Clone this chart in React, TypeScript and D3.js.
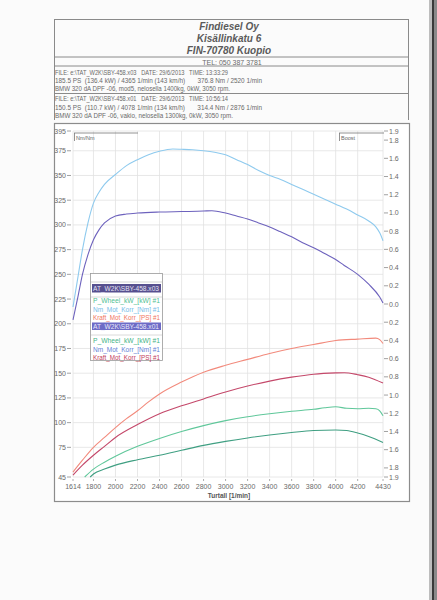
import React from 'react';
import * as d3 from 'd3';

const W = 437;
const H = 600;

const xTicks = [1614, 1800, 2000, 2200, 2400, 2600, 2800, 3000, 3200, 3400, 3600, 3800, 4000, 4200, 4430];
const leftTicks = [395, 375, 350, 325, 300, 275, 250, 225, 200, 175, 150, 125, 100, 75, 45];
const rightTicks = [1.9, 1.8, 1.6, 1.4, 1.2, 1.0, 0.8, 0.6, 0.4, 0.2, 0.0, -0.2, -0.4, -0.6, -0.8, -1.0, -1.2, -1.4, -1.6, -1.8, -1.9];

// x03 (modified) — Nm_Mot_Korr
const nmX03Rpm = [1614, 1660, 1700, 1750, 1800, 1850, 1900, 2000, 2100, 2200, 2300, 2400, 2520, 2600, 2700, 2800, 2900, 3000, 3100, 3200, 3300, 3400, 3500, 3600, 3700, 3800, 3900, 4000, 4100, 4200, 4300, 4365, 4400, 4430];
const nmX03 = [217, 248, 275, 302, 322, 333, 341, 351, 360, 366, 371, 374.5, 376.8, 376.5, 376, 375, 373.5, 371, 366, 361, 355, 350, 346, 341, 336, 331, 326, 321, 316, 310, 304, 298, 292, 284];
// x01 (stock) — Nm_Mot_Korr
const nmX01Rpm = [1614, 1660, 1700, 1750, 1800, 1850, 1900, 2000, 2100, 2200, 2400, 2600, 2800, 2876, 3000, 3100, 3200, 3300, 3400, 3500, 3600, 3700, 3800, 3900, 4000, 4078, 4200, 4300, 4400, 4430];
const nmX01 = [204, 228, 250, 270, 285, 295, 302, 309, 311, 312, 313, 313.5, 314, 314.4, 312, 309, 306, 302, 298, 293, 288, 282, 277, 271, 265, 259, 250, 240, 227, 221];
// x03 — Kraft_Mot_Korr [PS]
const psX03Rpm = [1614, 1700, 1800, 1900, 2000, 2100, 2200, 2300, 2400, 2600, 2800, 3000, 3200, 3400, 3600, 3800, 4000, 4200, 4365, 4400, 4430];
const psX03 = [50, 62, 75, 85, 95, 104, 112, 121, 129, 141, 151, 158, 164, 170, 175, 179, 183, 184.5, 185.5, 184, 180];
// x01 — Kraft_Mot_Korr [PS]
const psX01Rpm = [1614, 1700, 1800, 1900, 2000, 2200, 2400, 2600, 2800, 3000, 3200, 3400, 3600, 3800, 4000, 4078, 4200, 4300, 4430];
const psX01 = [47, 57, 67, 76, 85, 98, 109, 117, 124, 131, 137, 142, 146, 149, 150.3, 150.5, 148.5, 146, 140];
// x03 — P_Wheel_kW
const kwX03Rpm = [1720, 1800, 1900, 2000, 2200, 2400, 2600, 2800, 3000, 3200, 3400, 3600, 3800, 3900, 4000, 4100, 4200, 4300, 4365, 4400, 4430];
const kwX03 = [45, 53, 60, 66, 76, 84, 91, 97, 102, 106, 109, 111.5, 113.5, 115, 116, 114.5, 114, 114.5, 114, 112, 107];
// x01 — P_Wheel_kW
const kwX01Rpm = [1770, 1800, 1900, 2000, 2200, 2400, 2600, 2800, 3000, 3200, 3400, 3600, 3800, 4000, 4100, 4200, 4300, 4430];
const kwX01 = [45, 48, 53, 57, 62.5, 67, 72, 77, 81, 84.5, 87.5, 90, 92, 92.5, 92, 89.5, 86, 80];

const headerLines = ['Findiesel Oy', 'Kisällinkatu 6', 'FIN-70780 Kuopio'];
const telLine = 'TEL: 050 387 3781';
const file1 = 'FILE: e:\\TAT_W2K\\SBY-458.x03   DATE: 29/6/2013   TIME: 13:33:29';
const perf1 = '185.5 PS  (136.4 kW) / 4365 1/min (143 km/h)       376.8 Nm / 2520 1/min';
const car1 = 'BMW 320 dA DPF -06, mod5, nelosella 1400kg, 0kW, 3050 rpm.';
const file2 = 'FILE: e:\\TAT_W2K\\SBY-458.x01   DATE: 29/6/2013   TIME: 10:56:14';
const perf2 = '150.5 PS  (110.7 kW) / 4078 1/min (134 km/h)       314.4 Nm / 2876 1/min';
const car2 = 'BMW 320 dA DPF -06, vakio, nelosella 1300kg, 0kW, 3050 rpm.';
const legendFiles = ['AT_W2K\\SBY-458.x03', 'AT_W2K\\SBY-458.x01'];
const legendChannels = ['P_Wheel_kW_[kW] #1', 'Nm_Mot_Korr_[Nm] #1', 'Kraft_Mot_Korr_[PS] #1'];

const FONT = '"Liberation Sans", Arial, sans-serif';
const TXT = '#6a6a6a';

export default function App() {
  const x = d3.scaleLinear().domain([1614, 4430]).range([73, 383]);
  const yL = d3.scaleLinear().domain([45, 395]).range([477, 131]);
  const yR = d3.scaleLinear().domain([-1.9, 1.9]).range([477, 131]);

  const mk = (rpm: number[], vals: number[]) =>
    d3.line<number>().x((_, i) => x(rpm[i])).y((v) => yL(v)).curve(d3.curveMonotoneX)(vals) || '';

  const series = [
    { d: mk(kwX01Rpm, kwX01), c: '#3f9f82' },
    { d: mk(kwX03Rpm, kwX03), c: '#5fc79a' },
    { d: mk(psX01Rpm, psX01), c: '#c4486a' },
    { d: mk(psX03Rpm, psX03), c: '#f28a7c' },
    { d: mk(nmX01Rpm, nmX01), c: '#6d62bd' },
    { d: mk(nmX03Rpm, nmX03), c: '#8ecaee' },
  ];

  const legendColors1 = ['#4fc091', '#74bce8', '#f07560'];
  const legendColors2 = ['#45b386', '#5f7fd6', '#c23c5c'];
  const fit = { lengthAdjust: 'spacingAndGlyphs' as const };
  const pre = { style: { whiteSpace: 'pre' as const } };

  return (
    <svg width={W} height={H} style={{ position: 'absolute', left: 0, top: 0, background: '#fbfbfb' }} fontFamily={FONT}>
      <rect x={0} y={0} width={W} height={H} fill="#fbfbfb" />
      {/* scanner edge */}
      <rect x={429} y={0} width={3} height={H} fill="#bdbdbd" />
      <rect x={432} y={0} width={2} height={H} fill="#3a3a3a" />
      <rect x={434} y={0} width={3} height={H} fill="#8a8a8a" />

      {/* header box */}
      <g stroke="#8a8a8a" strokeWidth={1} fill="none">
        <line x1={54} y1={19.5} x2={408} y2={19.5} />
        <line x1={54.5} y1={19} x2={54.5} y2={120} />
        <line x1={408.5} y1={19} x2={408.5} y2={120} />
        <line x1={54} y1={57} x2={408} y2={57} />
        <line x1={54} y1={66} x2={408} y2={66} />
        <line x1={54} y1={93.5} x2={408} y2={93.5} />
      </g>
      {headerLines.map((t, i) => (
        <text key={t} x={229} y={29.5 + i * 12} textAnchor="middle" fontSize={10} fontWeight="bold" fontStyle="italic" fill="#5a5a5a">
          {t}
        </text>
      ))}
      <text x={232} y={64.5} textAnchor="middle" fontSize={7} fill={TXT}>{telLine}</text>
      <g fontSize={6.3} fill={TXT}>
        <text x={55} y={74.5} textLength={173} {...fit} {...pre}>{file1}</text>
        <text x={55} y={83} textLength={207} {...fit} {...pre}>{perf1}</text>
        <text x={55} y={91.3} textLength={175} {...fit}>{car1}</text>
        <text x={55} y={101} textLength={173} {...fit} {...pre}>{file2}</text>
        <text x={55} y={109.5} textLength={207} {...fit} {...pre}>{perf2}</text>
        <text x={55} y={118} textLength={178} {...fit}>{car2}</text>
      </g>

      {/* chart frame */}
      <rect x={54.5} y={123.5} width={355} height={378} fill="#ffffff" stroke="#8c8c8c" strokeWidth={1.2} />

      {/* grid */}
      <g stroke="#e2e2e2" strokeWidth={0.8}>
        {xTicks.map((t) => (
          <line key={'gx' + t} x1={x(t)} x2={x(t)} y1={131} y2={477} />
        ))}
        {leftTicks.map((t) => (
          <line key={'gy' + t} x1={73} x2={383} y1={yL(t)} y2={yL(t)} />
        ))}
      </g>

      {/* left axis */}
      <g fontSize={7} fill={TXT}>
        {leftTicks.map((t) => (
          <g key={'l' + t}>
            <line x1={67} x2={71} y1={yL(t)} y2={yL(t)} stroke="#8a8a8a" strokeWidth={0.8} />
            <text x={66} y={yL(t) + 2.5} textAnchor="end">{t}</text>
          </g>
        ))}
      </g>
      {/* right axis */}
      <g fontSize={7} fill={TXT}>
        {rightTicks.map((t, i) => (
          <g key={'r' + i}>
            <line x1={384} x2={388} y1={yR(t)} y2={yR(t)} stroke="#8a8a8a" strokeWidth={0.8} />
            <text x={389} y={yR(t) + 2.5}>{Math.abs(t).toFixed(1)}</text>
          </g>
        ))}
      </g>
      {/* x axis */}
      <g fontSize={7} fill={TXT}>
        {xTicks.map((t) => (
          <g key={'x' + t}>
            <line x1={x(t)} x2={x(t)} y1={479} y2={481} stroke="#9a9a9a" strokeWidth={0.8} />
            <text x={x(t)} y={489} textAnchor="middle">{t}</text>
          </g>
        ))}
        <text x={229} y={498} textAnchor="middle" fontSize={6.5} fontWeight="bold" fill="#555">Turtall  [1/min]</text>
      </g>

      {/* axis title boxes */}
      <g stroke="#777" strokeWidth={0.8}>
        <line x1={74} x2={138} y1={133} y2={133} />
        <line x1={74.5} x2={74.5} y1={133} y2={141} />
        <line x1={339} x2={384} y1={133} y2={133} />
        <line x1={339.5} x2={339.5} y1={133} y2={141} />
      </g>
      <text x={76} y={140} fontSize={5.5} fill="#666">Nm/Nm</text>
      <text x={341} y={140} fontSize={5.5} fill="#666">Boost</text>

      {/* curves */}
      <g fill="none" strokeWidth={1.1}>
        {series.map((s, i) => (
          <path key={i} d={s.d} stroke={s.c} />
        ))}
      </g>

      {/* legend */}
      <g>
        <rect x={90.5} y={273.5} width={72} height={87} fill="#ffffff" stroke="#9a9a9a" strokeWidth={0.8} />
        <line x1={91} x2={162} y1={282} y2={282} stroke="#c8c8c8" strokeWidth={0.8} />
        <rect x={92} y={284} width={69} height={8.5} fill="#57508f" />
        <text x={93} y={290.8} fontSize={6.5} fill="#e4e2f4" textLength={66} {...fit}>{legendFiles[0]}</text>
        <line x1={91} x2={162} y1={297} y2={297} stroke="#d0d0d0" strokeWidth={0.8} />
        {legendChannels.map((t, i) => (
          <text key={'a' + i} x={93} y={303.3 + i * 8.4} fontSize={6.5} fill={legendColors1[i]} textLength={67} {...fit}>{t}</text>
        ))}
        <rect x={92} y={322.5} width={69} height={7.5} fill="#6d6bc6" />
        <text x={93} y={328.7} fontSize={6.5} fill="#e8e8fa" textLength={66} {...fit}>{legendFiles[1]}</text>
        <line x1={91} x2={162} y1={335} y2={335} stroke="#d0d0d0" strokeWidth={0.8} />
        {legendChannels.map((t, i) => (
          <text key={'b' + i} x={93} y={343.3 + i * 8.2} fontSize={6.5} fill={legendColors2[i]} textLength={67} {...fit}>{t}</text>
        ))}
      </g>
    </svg>
  );
}
